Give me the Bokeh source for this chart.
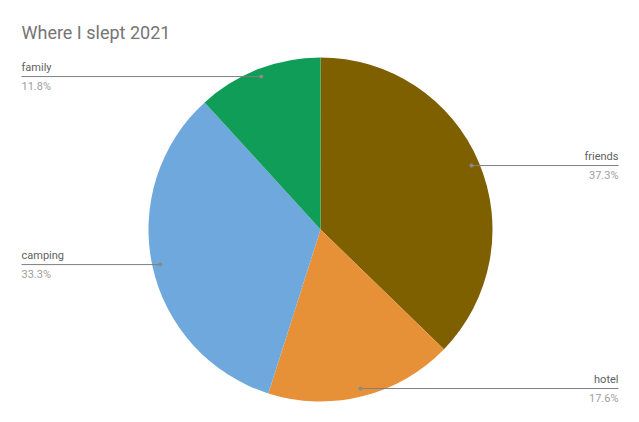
import math
from bokeh.plotting import figure
from bokeh.models import Range1d
from bokeh.core.properties import value
from bokeh.embed import file_html
from bokeh.resources import INLINE

title = "Where I slept 2021"
categories = ["friends", "hotel", "camping", "family"]
nights = [19, 9, 17, 6]
colors = ["#7f6000", "#e69138", "#6fa8dc", "#0f9d58"]

W, H = 623, 406
p = figure(width=W, height=H, output_backend="svg", toolbar_location=None,
           x_range=Range1d(0, W), y_range=Range1d(422 - H, 422),
           min_border=0, outline_line_color=None)
p.axis.visible = False
p.grid.visible = False
p.background_fill_color = "white"
p.border_fill_color = "white"

def sy(y):  # screen y -> data y
    return 422 - y

cx, cy, R = 320, sy(229), 172
total = sum(nights)
start = 0.0
starts, ends, mids = [], [], []
for v in nights:
    f = v / total
    starts.append(start)
    ends.append(start + f)
    mids.append(start + f / 2)
    start += f

# clockwise from 12 o'clock
p.wedge(x=[cx] * len(nights), y=[cy] * len(nights), radius=R,
        start_angle=[math.pi / 2 - 2 * math.pi * s for s in starts],
        end_angle=[math.pi / 2 - 2 * math.pi * e for e in ends],
        direction="clock", fill_color=colors, line_color=None)

font = value("Roboto")
for cat, v, m in zip(categories, nights, mids):
    th = 2 * math.pi * m
    r = 164
    dx = cx + r * math.sin(th)
    dy = cy + r * math.cos(th)
    right = math.sin(th) > 0
    lx = 618 if right else 21
    p.segment(x0=[dx], y0=[dy], x1=[lx], y1=[dy], line_color="#7f7f7f", line_width=1)
    p.scatter(x=[dx], y=[dy], size=4, fill_color="#8a8a8a", line_color=None)
    align = "right" if right else "left"
    p.text(x=[lx], y=[dy + 3], text=[cat], text_font=font, text_font_size="11px",
           text_color="#616161", text_align=align, text_baseline="bottom")
    p.text(x=[lx], y=[dy - 3], text=[f"{v / total * 100:.1f}%"], text_font=font,
           text_font_size="11px", text_color="#9e9e9e", text_align=align, text_baseline="top")

p.text(x=[21], y=[sy(32)], text=[title], text_font=font, text_font_size="18px",
       text_color="#757575", text_align="left", text_baseline="middle")

open("out.html", "w").write(file_html(p, INLINE))
